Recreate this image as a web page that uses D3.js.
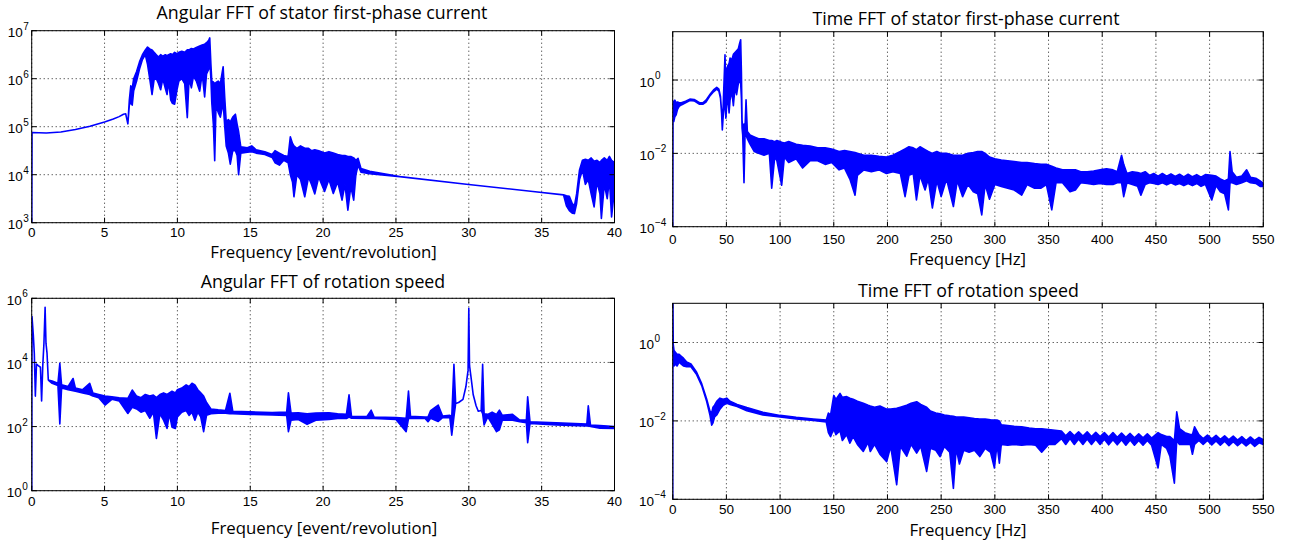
<!DOCTYPE html>
<meta charset="utf-8">
<head>
<style>
  body { margin: 0; background: #fff; }
  .tl { font-family: "Liberation Sans", Arial, sans-serif; fill: #000; }
  .cap { font-family: "Open Sans", sans-serif; font-weight: 400; fill: #000; text-anchor: middle; }
</style>
</head>
<body>
<script src="https://cdn.jsdelivr.net/npm/d3@7"></script>
<script>

// spectra: [frequency, upper log10 amplitude, lower log10 amplitude]
// (one value only where the trace is a single clean line)
var statorAngular = [
  [0, 2.5], [0.02, 4.88], [1, 4.87], [2, 4.89], [3, 4.94], [4, 5.01], [5, 5.10], [5.6, 5.16],
  [6.0, 5.21], [6.3, 5.26], [6.45, 5.27], [6.6, 5.06], [6.7, 5.55, 5.45], [6.8, 5.85, 5.5],
  [6.9, 5.8, 5.45], [7.0, 6.0, 5.75], [7.2, 6.15, 5.95], [7.4, 6.35, 6.2], [7.6, 6.5, 6.4],
  [7.8, 6.6, 6.5], [7.95, 6.66, 6.3], [8.1, 6.62, 6.0], [8.26, 6.6, 5.67], [8.4, 6.55, 5.98],
  [8.55, 6.5, 6.0], [8.7, 6.45, 5.9], [8.85, 6.5, 5.77], [9.0, 6.47, 6.0], [9.17, 6.5, 5.8],
  [9.29, 6.48, 5.67], [9.4, 6.5, 5.95], [9.54, 6.52, 5.56], [9.65, 6.5, 5.49], [9.81, 6.55, 5.47],
  [9.96, 6.52, 5.75], [10.1, 6.55, 5.95], [10.3, 6.57, 6.0], [10.5, 6.55, 5.9], [10.68, 6.6, 5.19],
  [10.8, 6.6, 6.0], [10.96, 6.63, 5.81], [11.1, 6.62, 6.05], [11.3, 6.65, 5.95], [11.53, 6.68, 5.74],
  [11.7, 6.7, 6.1], [11.87, 6.72, 5.62], [12.0, 6.75, 6.1], [12.15, 6.8, 6.2], [12.22, 6.85, 6.4],
  [12.3, 6.3, 6.0], [12.36, 5.95, 5.5], [12.47, 5.93, 5.04], [12.56, 5.9, 4.29], [12.65, 5.92, 5.45],
  [12.8, 5.95, 5.3], [12.95, 5.9, 5.2], [13.14, 6.25, 5.5], [13.25, 5.6, 5.0], [13.35, 5.1, 4.6],
  [13.5, 5.15, 4.45], [13.63, 5.1, 4.22], [13.8, 5.2, 4.5], [13.98, 5.26, 4.5], [14.1, 5.05, 4.4],
  [14.2, 4.9, 4.0], [14.35, 4.58, 4.45], [14.8, 4.56, 4.47], [15.1, 4.6, 4.48], [15.4, 4.52, 4.45],
  [16.0, 4.48, 4.42], [16.5, 4.42, 4.36], [16.7, 4.5, 4.25], [17.0, 4.45, 4.2], [17.3, 4.4, 4.3],
  [17.6, 4.38, 4.25], [17.75, 4.79, 4.0], [17.9, 4.65, 3.85], [18.0, 4.6, 3.54], [18.2, 4.55, 4.0],
  [18.45, 4.6, 3.9], [18.74, 4.55, 3.54], [19.0, 4.55, 3.95], [19.2, 4.5, 3.8], [19.43, 4.52, 3.6],
  [19.7, 4.5, 3.95], [20.1, 4.45, 3.65], [20.4, 4.48, 3.9], [20.7, 4.45, 3.61], [21.0, 4.42, 3.85],
  [21.3, 4.4, 3.47], [21.5, 4.4, 3.8], [21.7, 4.38, 3.26], [21.9, 4.38, 3.75], [22.1, 4.35, 3.47],
  [22.25, 4.3, 4.0], [22.4, 4.34, 4.2], [22.6, 4.13, 4.05], [23.2, 4.07, 4.02], [25.26, 3.96],
  [29.83, 3.80], [34.4, 3.65], [36.5, 3.58], [36.7, 3.56, 3.35], [36.9, 3.55, 3.25], [37.1, 3.4, 3.2],
  [37.25, 3.35, 3.19], [37.4, 3.6, 3.4], [37.6, 4.1, 3.9], [37.8, 4.3, 4.1], [38.0, 4.32, 3.8],
  [38.2, 4.3, 3.9], [38.4, 4.35, 3.6], [38.6, 4.28, 3.33], [38.8, 4.3, 3.85], [39.0, 4.25, 3.6],
  [39.1, 4.3, 3.09], [39.3, 4.35, 3.8], [39.5, 4.3, 3.5], [39.65, 4.38, 3.9], [39.8, 4.3, 3.12],
  [40.0, 4.25, 3.7]
];

var statorTime = [
  [0, -4.5], [0.3, -0.58], [1, -0.6, -1.13], [2, -0.55, -1.0], [3.2, -0.62, -0.95], [4.5, -0.6, -0.8],
  [6, -0.62, -0.72], [8, -0.62, -0.68], [12, -0.58, -0.62], [16, -0.52, -0.56], [20, -0.53, -0.57],
  [25, -0.62, -0.66], [28, -0.62, -0.66], [31, -0.55, -0.6], [35, -0.38, -0.42], [38, -0.27, -0.32],
  [41, -0.2, -0.25], [43, -0.25, -0.3], [44.5, -0.45, -0.5], [45.5, -0.85, -0.9], [46.2, -1.36],
  [47, -0.7, -1.0], [48.7, 0.69, -0.5], [49.5, -0.3, -1.04], [50.3, 0.3, -0.7], [51.5, 0.4, -0.5],
  [52.5, 0.45, -0.9], [53.4, 0.6, -0.55], [55, 0.55, -0.3], [56.5, 0.7, -0.7], [58, 0.75, -0.2],
  [59.5, 0.8, -0.4], [61.1, 0.85, -0.1], [62.3, 1.0, 0.0], [63.3, 1.1, -0.1], [64.0, 0.2, -0.5],
  [64.6, -1.1, -1.31], [65.2, -1.3, -1.5], [66.4, -1.2, -2.8], [67.3, -1.35, -1.55], [68.3, -0.54, -1.5],
  [69.5, -1.4, -1.6], [72, -1.5, -1.75], [76, -1.55, -1.95], [80, -1.6, -2.0], [85, -1.6, -2.05],
  [90, -1.65, -2.0], [92.2, -1.65, -2.95], [95, -1.68, -2.1], [97, -1.65, -2.2], [101.5, -1.7, -2.87],
  [104, -1.72, -2.1], [108, -1.68, -2.25], [115, -1.75, -2.15], [121, -1.78, -2.4], [128, -1.8, -2.2],
  [135, -1.85, -2.2], [142, -1.85, -2.3], [148, -1.88, -2.25], [155, -1.95, -2.45], [160, -1.92, -2.4],
  [165, -1.95, -2.7], [169.8, -1.98, -3.14], [172, -2.0, -2.6], [178, -2.05, -2.45], [185, -2.05, -2.5],
  [192, -2.08, -2.45], [199, -2.1, -2.55], [205, -2.05, -2.5], [212, -1.95, -2.55], [216.4, -1.88, -3.18],
  [220, -1.82, -2.6], [224, -1.85, -2.55], [227, -1.9, -3.27], [230.3, -1.82, -2.6], [235, -1.9, -3.0],
  [238, -1.95, -2.7], [241.8, -2.0, -3.49], [246, -1.95, -2.75], [250, -2.0, -3.18], [255, -2.0, -2.7],
  [261.4, -2.05, -3.45], [265, -2.05, -2.75], [270, -2.05, -3.18], [275, -2.0, -2.85], [280, -1.98, -3.05],
  [284, -1.95, -3.1], [287.8, -1.95, -3.68], [291, -2.0, -2.85], [295, -2.1, -3.25], [300, -2.15, -2.85],
  [306, -2.18, -2.9], [312, -2.2, -2.95], [318, -2.22, -3.0], [325, -2.25, -3.14], [330, -2.25, -2.85],
  [337, -2.28, -2.95], [343, -2.3, -2.95], [348, -2.3, -2.85], [353, -2.35, -3.54], [357, -2.4, -2.8],
  [363, -2.45, -2.8], [370, -2.45, -3.05], [375, -2.45, -3.0], [380, -2.5, -2.8], [386, -2.5, -2.82],
  [392, -2.48, -2.85], [398, -2.45, -2.82], [404, -2.42, -2.85], [410, -2.45, -2.85], [414, -2.5, -2.8],
  [418, -2.05, -2.8], [420, -2.3, -3.18], [423, -2.55, -2.8], [428, -2.5, -2.85], [433, -2.52, -2.9],
  [436, -2.55, -3.14], [440, -2.5, -2.85], [444, -2.6, -2.8], [448, -2.55, -2.82], [452, -2.62, -2.85],
  [456, -2.55, -2.8], [460, -2.62, -2.86], [464, -2.56, -2.8], [468, -2.63, -2.86], [472, -2.57, -2.82],
  [476, -2.64, -2.88], [480, -2.57, -2.82], [484, -2.64, -2.88], [488, -2.58, -2.82], [492, -2.65, -2.9],
  [496, -2.58, -2.84], [502, -2.6, -3.27], [506, -2.62, -2.88], [510, -2.7, -3.05], [514, -2.75, -3.1],
  [517.5, -2.7, -3.54], [519, -1.95, -2.8], [521, -2.5, -2.8], [525, -2.65, -2.85], [530, -2.62, -2.8],
  [534.5, -2.45, -2.75], [538, -2.65, -2.8], [543, -2.68, -2.82], [547, -2.75, -2.9], [550, -2.82, -2.9]
];

var speedAngular = [
  [0, -0.5], [0.02, 5.43], [0.11, 4.86], [0.18, 4.27], [0.25, 2.95], [0.33, 3.95], [0.45, 3.9],
  [0.6, 3.85], [0.68, 2.8], [0.76, 3.9], [0.84, 4.6], [0.92, 5.72], [0.98, 4.6], [1.05, 4.3],
  [1.14, 3.45], [1.4, 3.42, 3.35], [1.8, 3.35, 3.28], [1.93, 3.97, 2.08], [2.05, 3.3, 3.2],
  [2.5, 3.25, 3.15], [2.84, 3.5, 3.12], [3.0, 3.2, 3.1], [3.5, 3.15, 3.05], [3.98, 3.35, 3.0],
  [4.2, 3.05, 2.95], [4.6, 3.0, 2.9], [5.03, 2.95, 2.67], [5.5, 2.93, 2.85], [6.0, 2.9, 2.8],
  [6.6, 2.88, 2.41], [6.9, 3.14, 2.6], [7.2, 2.95, 2.55], [7.5, 2.9, 2.45], [7.8, 3.0, 2.5],
  [8.1, 2.95, 2.26], [8.35, 2.98, 2.45], [8.56, 2.9, 1.63], [8.8, 3.0, 2.4], [9.05, 3.05, 2.2],
  [9.29, 3.0, 1.94], [9.45, 3.05, 2.4], [9.63, 3.1, 1.98], [9.86, 3.05, 1.94], [10.0, 3.15, 2.3],
  [10.3, 3.2, 2.45], [10.6, 3.3, 2.5], [10.8, 3.25, 2.35], [11.0, 3.35, 2.45], [11.2, 3.3, 2.2],
  [11.4, 3.15, 2.45], [11.6, 3.05, 2.3], [11.8, 2.95, 1.84], [12.0, 2.75, 2.35], [12.3, 2.55, 2.4],
  [12.8, 2.52, 2.42], [13.3, 2.5, 2.42], [13.6, 3.04, 2.4], [13.8, 2.48, 2.4], [15, 2.46, 2.38],
  [16.5, 2.44, 2.36], [17.5, 2.45, 2.35], [17.62, 3.05, 1.84], [17.8, 2.42, 2.2], [18.3, 2.43, 2.22],
  [18.9, 2.4, 2.07], [19.5, 2.42, 2.2], [20.4, 2.43, 2.22], [21.0, 2.4, 2.25], [21.6, 2.38, 2.25],
  [21.78, 2.99, 2.3], [21.95, 2.32, 2.26], [23.0, 2.31, 2.25], [23.3, 2.51, 2.26], [23.5, 2.3, 2.25],
  [25.0, 2.28, 2.22], [25.7, 2.26, 1.84], [25.86, 3.11, 2.25], [26.0, 2.32, 2.26], [27.0, 2.3, 2.25],
  [27.2, 2.3, 2.15], [27.38, 2.5, 2.26], [27.9, 2.67, 2.16], [28.2, 2.33, 2.28], [28.7, 2.35, 2.28],
  [28.83, 2.3, 1.73], [28.98, 3.94, 2.3], [29.1, 2.72], [29.3, 2.75], [29.6, 2.85], [29.8, 3.24],
  [29.95, 3.76], [30.0, 5.69], [30.05, 3.9], [30.15, 3.55], [30.3, 3.0], [30.5, 2.65], [30.65, 2.48],
  [30.85, 2.5], [30.95, 3.94, 2.4], [31.05, 2.4, 2.05], [31.3, 2.38, 2.3], [31.6, 2.45, 2.08],
  [31.9, 2.38, 1.84], [32.1, 2.51, 1.9], [32.3, 2.35, 2.2], [33.0, 2.38, 2.2], [33.5, 2.2, 2.15],
  [33.95, 2.2, 2.12], [34.04, 2.93, 1.5], [34.2, 2.15, 2.1], [36, 2.12, 2.05], [38.1, 2.08, 2.02],
  [38.2, 2.65, 2.02], [38.35, 2.05, 2.0], [39.0, 2.03, 1.95], [40, 2.0, 1.94]
];

var speedTime = [
  [0, -4.5], [0.2, 1.1], [0.5, -0.05], [1.2, -0.2, -0.6], [2.5, -0.25, -0.55], [4, -0.3, -0.6],
  [6, -0.3, -0.5], [8, -0.35, -0.55], [10, -0.4, -0.6], [13, -0.5, -0.62], [17, -0.55, -0.62],
  [22.3, -0.76, -0.82], [27, -1.05, -1.1], [31.6, -1.44, -1.5], [34.7, -1.75, -1.85], [36.3, -1.8, -2.11],
  [37.5, -1.65, -2.05], [39, -1.6, -1.9], [41, -1.5, -1.85], [44, -1.42, -1.7], [47, -1.45, -1.6],
  [50.3, -1.42, -1.55], [53.4, -1.5, -1.58], [60, -1.58, -1.63], [69, -1.66, -1.74], [84, -1.78, -1.85],
  [100, -1.86, -1.9], [115, -1.91, -1.95], [131, -1.95, -1.99], [143, -1.98, -2.03], [145, -1.8, -2.3],
  [147, -1.85, -2.4], [150, -1.35, -2.2], [152, -1.45, -2.35], [155.8, -1.3, -2.25], [158, -1.4, -2.5],
  [162, -1.38, -2.35], [165, -1.42, -2.57], [168, -1.45, -2.4], [172, -1.5, -2.6], [177.5, -1.55, -2.78],
  [182, -1.6, -2.55], [184, -1.62, -2.78], [188, -1.65, -2.6], [193, -1.62, -2.85], [199.3, -1.7, -3.04],
  [203, -1.7, -2.65], [208.6, -1.68, -3.63], [212, -1.65, -2.65], [217.9, -1.6, -2.9], [222, -1.55, -2.6],
  [227.2, -1.51, -2.82], [231, -1.58, -2.65], [236.5, -1.65, -3.29], [240, -1.75, -2.7], [245, -1.8, -2.75],
  [248.9, -1.82, -2.91], [253, -1.85, -2.65], [258, -1.87, -2.8], [261.4, -1.88, -3.72], [264, -1.9, -2.7],
  [267, -1.9, -3.1], [271, -1.9, -2.75], [276, -1.92, -2.8], [281, -1.94, -2.75], [286, -1.95, -2.91],
  [291, -1.95, -2.7], [296, -1.97, -2.8], [299.6, -1.98, -3.2], [302, -1.98, -2.6], [304.2, -2.0, -3.08],
  [306, -2.1, -2.6], [312, -2.12, -2.62], [318, -2.14, -2.6], [325, -2.15, -2.62], [332, -2.18, -2.6],
  [338, -2.2, -2.62], [343.6, -2.2, -2.8], [350, -2.22, -2.6], [356, -2.24, -2.6], [362, -2.26, -2.45],
  [366, -2.38, -2.6], [370, -2.27, -2.45], [374, -2.38, -2.6], [378, -2.28, -2.46], [382, -2.39, -2.6],
  [386, -2.28, -2.46], [390, -2.4, -2.6], [394, -2.29, -2.47], [398, -2.4, -2.6], [402, -2.3, -2.47],
  [406, -2.41, -2.61], [410, -2.3, -2.48], [414, -2.42, -2.61], [418, -2.31, -2.48], [422, -2.42, -2.62],
  [426, -2.32, -2.49], [430, -2.43, -2.62], [434, -2.33, -2.5], [438, -2.43, -2.62], [442, -2.33, -2.5],
  [446, -2.44, -2.62], [452, -2.3, -3.2], [455, -2.35, -2.6], [460, -2.4, -2.7], [463, -2.4, -2.9],
  [467.2, -2.5, -3.59], [469.4, -1.77, -2.5], [472, -2.2, -2.6], [477, -2.3, -2.6], [482, -2.35, -2.6],
  [484, -2.35, -2.85], [486, -2.15, -2.6], [490, -2.35, -2.5], [494, -2.45, -2.6], [498, -2.36, -2.5],
  [502, -2.46, -2.61], [506, -2.37, -2.51], [510, -2.47, -2.62], [514, -2.38, -2.52], [518, -2.48, -2.63],
  [522, -2.39, -2.53], [526, -2.49, -2.63], [530, -2.4, -2.54], [534, -2.5, -2.64], [538, -2.41, -2.55],
  [542, -2.5, -2.65], [546, -2.42, -2.56], [550, -2.48, -2.6]
];

var angTicks = [0, 5, 10, 15, 20, 25, 30, 35, 40];
var hzTicks = [0, 50, 100, 150, 200, 250, 300, 350, 400, 450, 500, 550];
var statorAngDecades = [3, 4, 5, 6, 7];
var speedAngDecades = [0, 2, 4, 6];
var timeDecades = [-4, -2, 0];

var titles = ["Angular FFT of stator first-phase current", "Time FFT of stator first-phase current",
              "Angular FFT of rotation speed", "Time FFT of rotation speed"];
var xLabels = ["Frequency [event/revolution]", "Frequency [Hz]",
               "Frequency [event/revolution]", "Frequency [Hz]"];

// panel geometry (pixels)
var panels = [
  {data: statorAngular, xDom: [0, 40], yDom: [3, 7], xt: angTicks, yt: statorAngDecades,
   left: 31.7, right: 614.5, top: 30.7, bottom: 222.7, tenX: 22.7, tickY: 14.3,
   titleX: 322, titleY: 18.5, labX: 323.5, labY: 258},
  {data: statorTime, xDom: [0, 550], yDom: [-4, 1.318], xt: hzTicks, yt: timeDecades,
   left: 672.7, right: 1263.3, top: 31.7, bottom: 226.7, tenX: 654.5, tickY: 17,
   titleX: 966, titleY: 24.5, labX: 967.5, labY: 265},
  {data: speedAngular, xDom: [0, 40], yDom: [0, 6], xt: angTicks, yt: speedAngDecades,
   left: 31.7, right: 614.5, top: 298.3, bottom: 490.7, tenX: 21.7, tickY: 15.7,
   titleX: 323, titleY: 287.5, labX: 324, labY: 534},
  {data: speedTime, xDom: [0, 550], yDom: [-4, 1], xt: hzTicks, yt: timeDecades,
   left: 672.7, right: 1263.3, top: 303.3, bottom: 499.3, tenX: 654, tickY: 15,
   titleX: 968.5, titleY: 296.5, labX: 968, labY: 535.5}
];

var svg = d3.select("body").append("svg")
    .attr("width", 1295)
    .attr("height", 544);

panels.forEach(function(p, i) {
  var x = d3.scaleLinear().domain(p.xDom).range([p.left, p.right]);
  var y = d3.scaleLog().domain(p.yDom.map(function(e) { return Math.pow(10, e); }))
      .range([p.bottom, p.top]);
  var w = p.right - p.left, h = p.bottom - p.top;
  var g = svg.append("g");

  g.append("clipPath").attr("id", "clip" + i)
    .append("rect").attr("x", p.left).attr("y", p.top).attr("width", w).attr("height", h);

  // dotted grid
  g.selectAll(".vg").data(p.xt).enter().append("line")
    .attr("x1", function(d) { return x(d); }).attr("x2", function(d) { return x(d); })
    .attr("y1", p.top).attr("y2", p.bottom)
    .attr("stroke", "#222").attr("stroke-width", 1).attr("stroke-dasharray", "1,3");
  g.selectAll(".hg").data(p.yt).enter().append("line")
    .attr("y1", function(d) { return y(Math.pow(10, d)); }).attr("y2", function(d) { return y(Math.pow(10, d)); })
    .attr("x1", p.left).attr("x2", p.right)
    .attr("stroke", "#222").attr("stroke-width", 1).attr("stroke-dasharray", "1,3");

  // the spectrum: band between upper and lower envelope
  var band = d3.area()
    .x(function(d) { return x(d[0]); })
    .y1(function(d) { return y(Math.pow(10, d[1])); })
    .y0(function(d) { return y(Math.pow(10, d.length > 2 ? d[2] : d[1])); });

  g.append("path")
    .datum(p.data)
    .attr("clip-path", "url(#clip" + i + ")")
    .attr("fill", "#0000ff")
    .attr("stroke", "#0000ff")
    .attr("stroke-width", 1.6)
    .attr("stroke-linejoin", "round")
    .attr("d", band);

  // ticks on all four sides, pointing in
  var tk = 5;
  p.xt.forEach(function(d) {
    g.append("line").attr("x1", x(d)).attr("x2", x(d)).attr("y1", p.bottom).attr("y2", p.bottom - tk).attr("stroke", "#000");
    g.append("line").attr("x1", x(d)).attr("x2", x(d)).attr("y1", p.top).attr("y2", p.top + tk).attr("stroke", "#000");
  });
  p.yt.forEach(function(d) {
    var yy = y(Math.pow(10, d));
    g.append("line").attr("x1", p.left).attr("x2", p.left + tk).attr("y1", yy).attr("y2", yy).attr("stroke", "#000");
    g.append("line").attr("x1", p.right).attr("x2", p.right - tk).attr("y1", yy).attr("y2", yy).attr("stroke", "#000");
  });

  g.append("rect").attr("x", p.left).attr("y", p.top).attr("width", w).attr("height", h)
    .attr("fill", "none").attr("stroke", "#000").attr("stroke-width", 1);

  // tick labels
  g.selectAll(".xl").data(p.xt).enter().append("text")
    .attr("class", "tl")
    .attr("x", function(d) { return x(d); })
    .attr("y", p.bottom + p.tickY)
    .attr("text-anchor", "middle")
    .attr("font-size", 13.5)
    .text(function(d) { return d; });

  g.selectAll(".yl").data(p.yt).enter().append("text")
    .attr("class", "tl")
    .attr("x", p.tenX)
    .attr("y", function(d) { return y(Math.pow(10, d)) + 6.5; })
    .attr("text-anchor", "end")
    .attr("font-size", 13.5)
    .text("10");
  g.selectAll(".ye").data(p.yt).enter().append("text")
    .attr("class", "tl")
    .attr("x", p.tenX + 0.5)
    .attr("y", function(d) { return y(Math.pow(10, d)) - 1; })
    .attr("font-size", 10)
    .text(function(d) { return d < 0 ? "\u2212" + (-d) : d; });

  g.append("text").attr("class", "cap")
    .attr("x", p.titleX).attr("y", p.titleY)
    .attr("font-size", 17.8)
    .text(titles[i]);
  g.append("text").attr("class", "cap")
    .attr("x", p.labX).attr("y", p.labY)
    .attr("font-size", 16.8)
    .text(xLabels[i]);
});

</script>
</body>
